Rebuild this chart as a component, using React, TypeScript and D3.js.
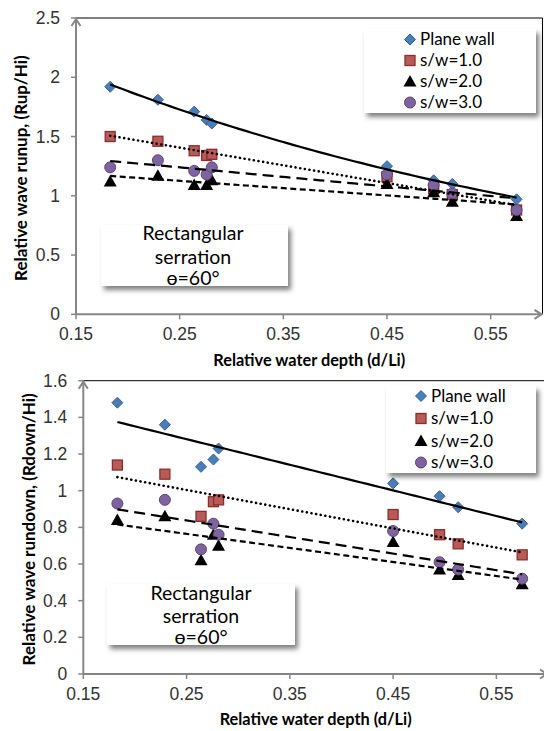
import React from 'react';
import * as d3 from 'd3';

// ---- data ----
const depth = [0.183, 0.229, 0.264, 0.276, 0.281, 0.45, 0.495, 0.513, 0.575];
const runupPlane = [1.92, 1.81, 1.71, 1.64, 1.61, 1.25, 1.13, 1.1, 0.97];
const runupSW1 = [1.5, 1.46, 1.38, 1.34, 1.35, 1.16, 1.06, 1.01, 0.88];
const runupSW2 = [1.12, 1.17, 1.09, 1.09, 1.13, 1.1, 1.03, 0.95, 0.83];
const runupSW3 = [1.24, 1.3, 1.21, 1.18, 1.24, 1.18, 1.09, 1.02, 0.88];
const rundownPlane = [1.48, 1.36, 1.13, 1.17, 1.23, 1.04, 0.97, 0.91, 0.82];
const rundownSW1 = [1.14, 1.09, 0.86, 0.94, 0.95, 0.87, 0.76, 0.71, 0.65];
const rundownSW2 = [0.84, 0.86, 0.62, 0.76, 0.7, 0.72, 0.57, 0.54, 0.49];
const rundownSW3 = [0.93, 0.95, 0.68, 0.82, 0.76, 0.78, 0.61, 0.57, 0.52];
const seriesNames = ['Plane wall', 's/w=1.0', 's/w=2.0', 's/w=3.0'];
const xTicks = [0.15, 0.25, 0.35, 0.45, 0.55];
const runupTicks = [0, 0.5, 1, 1.5, 2, 2.5];
const rundownTicks = [0, 0.2, 0.4, 0.6, 0.8, 1, 1.2, 1.4, 1.6];
const annotationLines = ['Rectangular', 'serration', 'ɵ=60°'];

const FONT = "Lato, 'Open Sans', sans-serif";
const TICKFONT = "'Liberation Sans', Arial, sans-serif";
const AXIS = '#868686';

const markerKinds = ['diamond', 'square', 'triangle', 'circle'];
const lineDash = [null, '0.1 4.6', '6 3.5', '11 6'];

function Marker({ kind, x, y }: { kind: string; x: number; y: number }) {
  if (kind === 'diamond')
    return <path d={`M${x},${y - 5.5}L${x + 5.5},${y}L${x},${y + 5.5}L${x - 5.5},${y}Z`} fill="#4A7EBB" stroke="#35618F" strokeWidth={1} />;
  if (kind === 'square')
    return <rect x={x - 5} y={y - 5} width={10} height={10} fill="#B65B58" stroke="#8B2E2B" strokeWidth={1.3} />;
  if (kind === 'triangle')
    return <path d={`M${x},${y - 6.5}L${x + 6.5},${y + 5}L${x - 6.5},${y + 5}Z`} fill="#000" />;
  return <circle cx={x} cy={y} r={5.5} fill="#7E649E" stroke="#5B4577" strokeWidth={1} />;
}

function fit(xs: number[], ys: number[], type: string) {
  const t = type === 'exp' ? ys.map((v) => Math.log(v)) : ys;
  const mx = d3.mean(xs)!;
  const my = d3.mean(t)!;
  let sxy = 0, sxx = 0;
  xs.forEach((x, i) => { sxy += (x - mx) * (t[i] - my); sxx += (x - mx) * (x - mx); });
  const b = sxy / sxx;
  const a = my - b * mx;
  return (x: number) => (type === 'exp' ? Math.exp(a + b * x) : a + b * x);
}

type PanelProps = {
  series: number[][];
  fits: string[];
  xRange: [number, number];
  yRange: [number, number];
  yMax: number;
  yTicks: number[];
  yTitle: string;
  yTitleX: number;
  xTitleY: number;
  legend: { x: number; y: number; w: number; h: number; mx: number; tx: number; rows: number[] };
  note: { x: number; y: number; w: number; h: number; cx: number; rows: number[] };
};

function Panel(p: PanelProps) {
  const x = d3.scaleLinear().domain([0.15, 0.6]).range(p.xRange);
  const y = d3.scaleLinear().domain([0, p.yMax]).range(p.yRange);
  const [x0, x1] = p.xRange;
  const [y0, y1] = p.yRange;
  const lo = d3.min(depth)!;
  const hi = d3.max(depth)!;
  const xs = d3.range(0, 61).map((i) => lo + (i / 60) * (hi - lo));
  return (
    <g>
      {/* plot border top/right */}
      <line x1={x0} x2={x1} y1={y1} y2={y1} stroke="#000" strokeWidth={1} />
      <line x1={x1} x2={x1} y1={y1} y2={y0} stroke="#000" strokeWidth={1} />
      {/* axes */}
      <line x1={x0} x2={x1} y1={y0} y2={y0} stroke={AXIS} strokeWidth={2} />
      <line x1={x0} x2={x0} y1={y0} y2={y1} stroke={AXIS} strokeWidth={2} />
      <path d={`M${x0 - 4.5},${y1 + 8}L${x0},${y1 + 1}L${x0 + 4.5},${y1 + 8}`} fill="none" stroke={AXIS} strokeWidth={2} />
      <path d={`M${x1 - 8},${y0 - 4.5}L${x1 - 1},${y0}L${x1 - 8},${y0 + 4.5}`} fill="none" stroke={AXIS} strokeWidth={2} />
      {p.yTicks.map((t) => (
        <g key={'y' + t}>
          <line x1={x0 - 5} x2={x0} y1={y(t)} y2={y(t)} stroke={AXIS} strokeWidth={1.5} />
          <text x={x0 - 16} y={y(t)} dy="0.35em" textAnchor="end" fontFamily={TICKFONT} fontSize={17.5} fill="#333">{String(t)}</text>
        </g>
      ))}
      {xTicks.map((t) => (
        <g key={'x' + t}>
          <line x1={x(t)} x2={x(t)} y1={y0} y2={y0 + 5} stroke={AXIS} strokeWidth={1.5} />
          <text x={x(t)} y={y0 + 20} dy="0.35em" textAnchor="middle" fontFamily={TICKFONT} fontSize={17.5} fill="#333">{t.toFixed(2)}</text>
        </g>
      ))}
      {/* titles */}
      <text x={(x0 + x1) / 2 - 96} y={p.xTitleY} textLength={192} lengthAdjust="spacingAndGlyphs" fontFamily={FONT} fontWeight="bold" fontSize={17.5} fill="#000">Relative water depth (d/Li)</text>
      <text transform={`translate(${p.yTitleX},${(y0 + y1) / 2 + 2}) rotate(-90)`} dy="0.35em" textAnchor="middle" fontFamily={FONT} fontWeight="bold" fontSize={17} fill="#000">{p.yTitle}</text>
      {/* markers */}
      {p.series.map((s, si) => (
        <g key={'s' + si}>
          {s.map((v, i) => <Marker key={i} kind={markerKinds[si]} x={x(depth[i])} y={y(v)} />)}
        </g>
      ))}
      {/* trendlines */}
      {p.series.map((s, si) => {
        const f = fit(depth, s, p.fits[si]);
        const line = d3.line<number>().x((d) => x(d)).y((d) => y(f(d)));
        return (
          <path key={'t' + si} d={line(xs)!} fill="none" stroke="#000" strokeWidth={si === 1 ? 2.6 : 2.2}
            strokeDasharray={lineDash[si] ?? undefined} strokeLinecap={si === 1 ? 'round' : 'butt'} />
        );
      })}
      {/* legend */}
      <rect x={p.legend.x} y={p.legend.y} width={p.legend.w} height={p.legend.h} fill="#fff" filter="url(#shadow)" />
      {seriesNames.map((n, i) => (
        <g key={n}>
          <Marker kind={markerKinds[i]} x={p.legend.mx} y={p.legend.rows[i]} />
          <text x={p.legend.tx} y={p.legend.rows[i]} dy="0.35em" fontFamily={FONT} fontSize={17} fill="#000">{n}</text>
        </g>
      ))}
      {/* annotation */}
      <rect x={p.note.x} y={p.note.y} width={p.note.w} height={p.note.h} fill="#fff" filter="url(#shadow)" />
      {annotationLines.map((t, i) => (
        <text key={t} x={p.note.cx} y={p.note.rows[i]} dy="0.35em" textAnchor="middle" fontFamily={FONT} fontSize={19.5} fill="#000">{t}</text>
      ))}
    </g>
  );
}

export default function App() {
  return (
    <svg width={544} height={731} style={{ position: 'absolute', left: 0, top: 0, background: '#fff' }}>
      <defs>
        <filter id="shadow" x="-10%" y="-10%" width="130%" height="150%">
          <feDropShadow dx="3" dy="4" stdDeviation="2.5" floodColor="#000" floodOpacity="0.5" />
        </filter>
      </defs>
      <rect width={544} height={731} fill="#fff" />
      <Panel
        series={[runupPlane, runupSW1, runupSW2, runupSW3]}
        fits={['exp', 'linear', 'linear', 'linear']}
        xRange={[76, 542.5]}
        yRange={[314.3, 18]}
        yMax={2.5}
        yTicks={runupTicks}
        yTitle="Relative wave runup, (Rup/Hi)"
        yTitleX={21}
        xTitleY={366}
        legend={{ x: 364, y: 29, w: 172, h: 84, mx: 410, tx: 420, rows: [39.5, 60.5, 81.5, 102.5] }}
        note={{ x: 101, y: 225, w: 187, h: 61, cx: 193, rows: [233.5, 257, 278] }}
      />
      <Panel
        series={[rundownPlane, rundownSW1, rundownSW2, rundownSW3]}
        fits={['linear', 'linear', 'linear', 'linear']}
        xRange={[83.3, 548]}
        yRange={[674, 380.7]}
        yMax={1.6}
        yTicks={rundownTicks}
        yTitle="Relative wave rundown, (Rdown/Hi)"
        yTitleX={29.5}
        xTitleY={725}
        legend={{ x: 386, y: 386, w: 150, h: 87, mx: 421, tx: 431, rows: [396, 418.5, 441, 462.5] }}
        note={{ x: 107, y: 584, w: 188, h: 61, cx: 201, rows: [593.5, 616, 637] }}
      />
    </svg>
  );
}
